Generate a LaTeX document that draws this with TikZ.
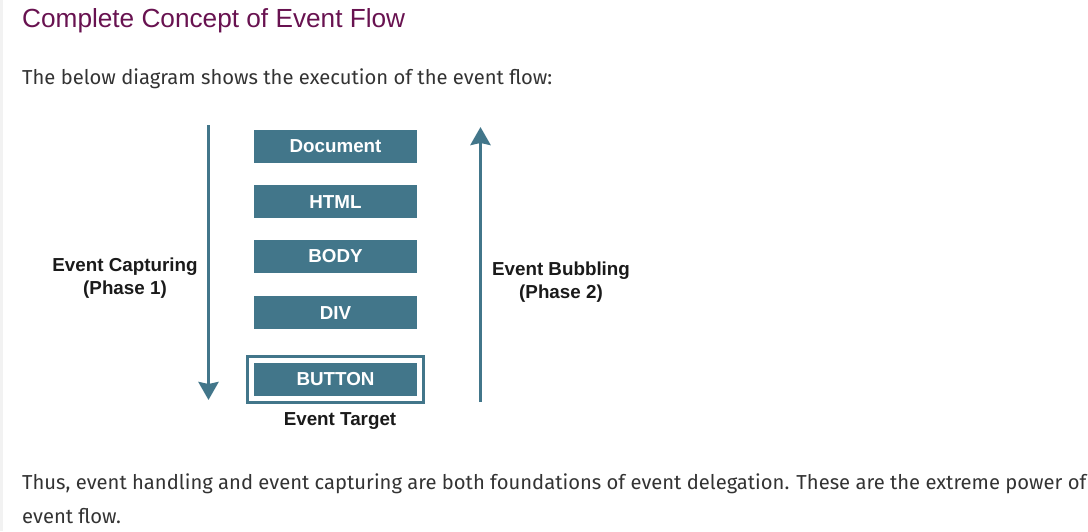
\documentclass[tikz,border=0pt]{standalone}
\usepackage{fontspec}
\setmainfont{Liberation Sans}
\newfontfamily\bodyfont{Fira Sans}
\usetikzlibrary{arrows.meta,positioning}

\definecolor{boxblue}{RGB}{66,118,138}
\definecolor{titlepurple}{RGB}{104,18,80}
\definecolor{bodygray}{RGB}{51,51,51}
\definecolor{labelblack}{RGB}{26,26,26}

\tikzset{
  elembox/.style={fill=boxblue,text=white,inner sep=0pt,
    minimum width=163pt,minimum height=33pt,
    font=\fontsize{18.8}{20}\selectfont\bfseries},
  phaselabel/.style={text=labelblack,align=center,inner sep=0pt,
    font=\fontsize{18.8}{23}\selectfont\bfseries},
  flowarrow/.style={draw=boxblue,line width=3.5pt,
    -{Stealth[width=20pt,length=18pt,inset=2pt]}},
  prose/.style={text=bodygray,anchor=base west,inner sep=0pt,
    font=\bodyfont\fontsize{20.2}{23}\selectfont},
}

\begin{document}
\begin{tikzpicture}[x=1pt,y=-1pt]
  \useasboundingbox (0,0) rectangle (1088,531);
  \fill[black!5] (0,0) rectangle (2.5,531);

  % --- heading and intro ---
  \node[anchor=base west,inner sep=0pt,text=titlepurple,
        font=\fontsize{26.2}{30}\selectfont] (title) at (22,27)
        {Complete Concept of Event Flow};
  \node[prose] (intro) at (22,84)
        {The below diagram shows the execution of the event flow:};

  % --- DOM stack, top to bottom ---
  \node[elembox] (doc) at (335.5,146.5) {Document};
  \node[elembox,below=22pt of doc]  (html)   {HTML};
  \node[elembox,below=21pt of html] (body)   {BODY};
  \node[elembox,below=23pt of body] (div)    {DIV};
  \node[elembox,below=33pt of div]  (button) {BUTTON};
  \node[draw=boxblue,line width=3pt,inner sep=0pt,
        minimum width=176pt,minimum height=46pt] (target) at (button) {};
  \node[phaselabel] (targetlbl) at (340,421) {Event Target};

  % --- capturing goes down, bubbling goes up ---
  \coordinate (capTop) at (208.5,125);
  \coordinate (capBot) at (208.5,400);
  \draw[flowarrow] (capTop) -- (capBot);
  \node[phaselabel] (caplbl) at (125,278) {Event Capturing\\(Phase 1)};

  \coordinate (bubBot) at (480.5,402);
  \coordinate (bubTop) at (480.5,127);
  \draw[flowarrow] (bubBot) -- (bubTop);
  \node[phaselabel] (bublbl) at (561,282) {Event Bubbling\\(Phase 2)};

  % --- closing remark ---
  \node[prose] (summary) at (22,489)
        {Thus, event handling and event capturing are both foundations of event delegation. These are the extreme power of};
  \node[prose] (summaryend) at (22,523) {event flow.};
\end{tikzpicture}
\end{document}
